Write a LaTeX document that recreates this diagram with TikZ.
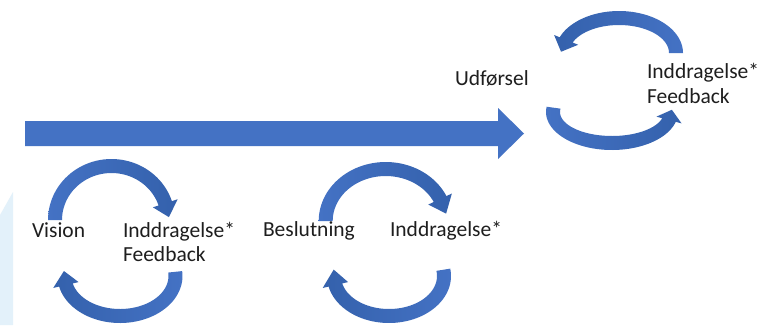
\documentclass[tikz,border=0pt]{standalone}
\usepackage{fontspec}
\setmainfont{Carlito}
\definecolor{mainblue}{HTML}{4472C4}
\definecolor{darkblue}{HTML}{3461AC}
\definecolor{paleblue}{HTML}{E3F1FA}
\definecolor{txt}{HTML}{1E1E1E}
% cx cy rx ry start base tip style
\newcommand\cycarrow[8]{%
  \shade[#8] plot[domain=#5:#6,samples=50] ({#1+(#3+7)*cos(\x)},{#2+(#4+7)*sin(\x)})
   -- ({#1+(#3+13)*cos(#6)},{#2+(#4+13)*sin(#6)})
   -- ({#1+(#3+1)*cos(#7)},{#2+(#4+1)*sin(#7)})
   -- ({#1+(#3-13)*cos(#6)},{#2+(#4-13)*sin(#6)})
   -- ({#1+(#3-7)*cos(#6)},{#2+(#4-7)*sin(#6)})
   -- plot[domain=#6:#5,samples=50] ({#1+(#3-7)*cos(\x)},{#2+(#4-7)*sin(\x)}) -- cycle;}
\tikzset{
  lbl/.style={anchor=base west,inner sep=0pt,outer sep=0pt,text=txt,
    font=\fontsize{21.5}{24.5}\selectfont},
  arcA/.style={left color=mainblue,right color=darkblue},
  arcB/.style={left color=darkblue,right color=mainblue},
}
\begin{document}
\begin{tikzpicture}[x=1pt,y=1pt]
\useasboundingbox (0,0) rectangle (759,-325);
\fill[white] (0,0) rectangle (759,-325);
% pale background shape at left edge
\fill[paleblue] (0,-215) -- (13,-192) -- (13,-325) -- (0,-325) -- cycle;
% main arrow
\fill[mainblue] (25,-121) -- (498,-121) -- (498,-108) -- (524,-133.5)
  -- (498,-159) -- (498,-146) -- (25,-146) -- cycle;
% cycle 1
\cycarrow{111.5}{-220}{56.5}{54}{180}{18}{3}{arcA}
\cycarrow{120}{-276}{55.5}{40}{6}{-167}{-187}{arcB}
% cycle 2
\cycarrow{385.7}{-221}{60}{52}{180}{25}{8}{arcA}
\cycarrow{389}{-276}{55}{40}{9}{-167}{-189}{arcB}
% cycle 3
\cycarrow{619}{-53}{57}{35}{0}{158}{178}{arcB}
\cycarrow{612}{-112}{59}{31}{172}{345}{364}{arcA}
% labels
\node[lbl] (vision) at (32,-237) {Vision};
\node[lbl] (ind1) at (123,-237) {Inddragelse*};
\node[lbl] (fb1) at (123,-261) {Feedback};
\node[lbl] (besl) at (263,-236) {Beslutning};
\node[lbl] (ind2) at (390,-236) {Inddragelse*};
\node[lbl] (udf) at (455,-85) {Udførsel};
\node[lbl] (ind3) at (647,-78) {Inddragelse*};
\node[lbl] (fb3) at (647,-103) {Feedback};
\end{tikzpicture}
\end{document}
